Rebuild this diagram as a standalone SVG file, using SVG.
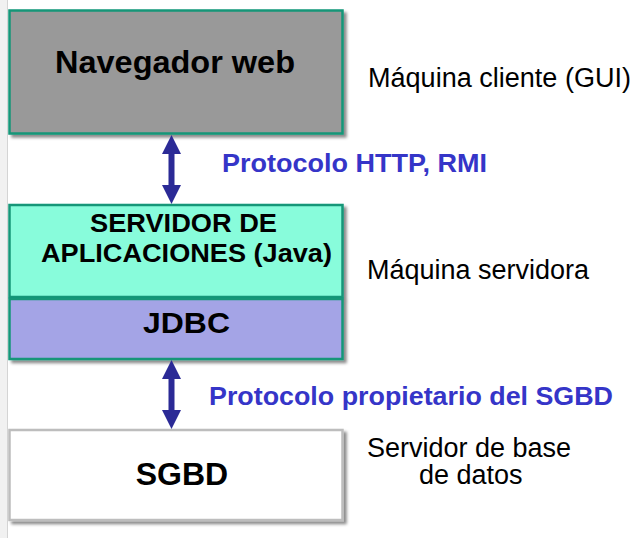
<svg xmlns="http://www.w3.org/2000/svg" width="635" height="538" viewBox="0 0 635 538">
<style>
.box{stroke:#139678;stroke-width:2.5}
.gray{stroke:#bdbdbd;stroke-width:2.5}
.bt{font-family:"Liberation Sans",Arial,sans-serif;font-weight:bold;fill:#000;text-anchor:middle}
.lbl{font-family:"Liberation Sans",Arial,sans-serif;font-size:27px;fill:#000}
.proto{font-family:"Liberation Sans",Arial,sans-serif;font-weight:bold;font-size:26.5px;fill:#3535c8}
.arrow{fill:#2b2a96}
</style>
<defs>
<filter id="sh" x="-5%" y="-5%" width="115%" height="120%">
<feDropShadow dx="3" dy="3" stdDeviation="1.5" flood-color="#000" flood-opacity="0.45"/>
</filter>
</defs>
<rect x="0" y="0" width="635" height="538" fill="#fff"/>
<rect x="0" y="0" width="7" height="538" fill="#f1f1f1"/>
<line x1="7.5" y1="0" x2="7.5" y2="538" stroke="#d4d4d4" stroke-width="1"/>

<g id="navegador">
<rect class="box" x="9.5" y="10.5" width="333" height="123" fill="#999999" filter="url(#sh)"/>
<text class="bt" x="175" y="73" font-size="32" textLength="240" lengthAdjust="spacingAndGlyphs">Navegador web</text>
</g>

<g id="servidor">
<rect class="box" x="9.5" y="205" width="333" height="92" fill="#88fcdb" filter="url(#sh)"/>
<text class="bt" x="183.5" y="231.5" font-size="25" textLength="187" lengthAdjust="spacingAndGlyphs">SERVIDOR DE</text>
<text class="bt" x="186.5" y="262" font-size="25" textLength="291" lengthAdjust="spacingAndGlyphs">APLICACIONES (Java)</text>
</g>

<g id="jdbc">
<rect class="box" x="9.5" y="299" width="333" height="60" fill="#a4a4e6" filter="url(#sh)"/>
<text class="bt" x="186.5" y="333" font-size="30" textLength="87" lengthAdjust="spacingAndGlyphs">JDBC</text>
</g>

<g id="sgbd">
<rect class="gray" x="9.5" y="430" width="333" height="90" fill="#ffffff" filter="url(#sh)"/>
<text class="bt" x="182" y="485" font-size="32">SGBD</text>
</g>

<g id="connectors">
<polygon class="arrow" points="171.5,135 181,154 174.5,154 174.5,185 181,185 171.5,204 162,185 168.5,185 168.5,154 162,154"/>
<polygon class="arrow" points="171.5,360 181,379 174.5,379 174.5,410 181,410 171.5,429 162,410 168.5,410 168.5,379 162,379"/>
</g>

<g id="labels">
<text class="lbl" x="368" y="87" textLength="263" lengthAdjust="spacingAndGlyphs">Máquina cliente (GUI)</text>
<text class="proto" x="222" y="171.5" textLength="265" lengthAdjust="spacingAndGlyphs">Protocolo HTTP, RMI</text>
<text class="lbl" x="367" y="279">Máquina servidora</text>
<text class="proto" x="209" y="405" textLength="404" lengthAdjust="spacingAndGlyphs">Protocolo propietario del SGBD</text>
<text class="lbl" x="367" y="456.5">Servidor de base</text>
<text class="lbl" x="419" y="484">de datos</text>
</g>
</svg>
